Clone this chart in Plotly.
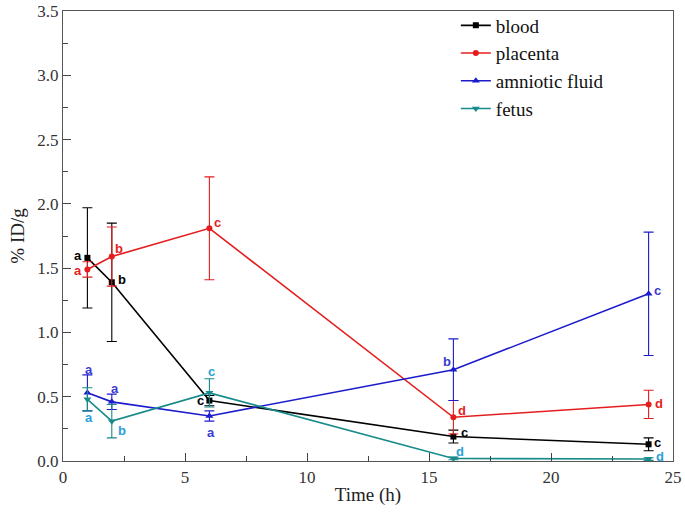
import plotly.graph_objects as go

# ---- data ----
time_h = [1, 2, 6, 16, 24]
series_names = ["blood", "placenta", "amniotic fluid", "fetus"]
blood = [1.58, 1.39, 0.47, 0.19, 0.13]
blood_err = [0.39, 0.46, 0.04, 0.05, 0.05]
placenta = [1.49, 1.59, 1.81, 0.34, 0.44]
placenta_err = [0.06, 0.23, 0.40, 0.13, 0.11]
amniotic = [0.53, 0.46, 0.35, 0.71, 1.30]
amniotic_err = [0.14, 0.06, 0.04, 0.24, 0.48]
fetus = [0.48, 0.31, 0.53, 0.02, 0.015]
fetus_err = [0.09, 0.13, 0.11, 0.01, 0.01]
blood_letters = ["a", "b", "c", "c", "c"]
placenta_letters = ["a", "b", "c", "d", "d"]
amniotic_letters = ["a", "a", "a", "b", "c"]
fetus_letters = ["a", "b", "c", "d", "d"]
x_ticks = [0, 5, 10, 15, 20, 25]
y_ticks = [0.0, 0.5, 1.0, 1.5, 2.0, 2.5, 3.0, 3.5]

# ---- styles ----
SERIF = "Times New Roman, Liberation Serif, serif"
line_colors = ["#000000", "#e41e1e", "#1c1ccc", "#178a8a"]
letter_colors = ["#000000", "#e41e1e", "#3b3bd0", "#2aa0d8"]
symbols = ["square", "circle", "triangle-up", "triangle-down"]
msizes = [6, 6, 7, 7]
# label pixel offsets (dx, dy up-positive)
offsets = [
    [(-9, 2), (10, 3), (-9, 0), (11, 4), (9, 2)],
    [(-9, -1), (7, 8), (8, 6), (9, 7), (10, 1)],
    [(2, 23), (3, 13), (2, -16), (-6, 8), (9, 3)],
    [(2, -18), (10, -9), (2, 21), (7, 7), (11, 3)],
]

values = [blood, placenta, amniotic, fetus]
errs = [blood_err, placenta_err, amniotic_err, fetus_err]
letters = [blood_letters, placenta_letters, amniotic_letters, fetus_letters]

fig = go.Figure()
for i, name in enumerate(series_names):
    fig.add_trace(go.Scatter(
        x=time_h, y=values[i], name=name, mode="lines+markers",
        line=dict(color=line_colors[i], width=1.6),
        marker=dict(symbol=symbols[i], size=msizes[i], color=line_colors[i]),
        error_y=dict(type="data", array=errs[i], visible=True,
                     color=line_colors[i], thickness=1.1, width=5),
    ))
    for j, t in enumerate(time_h):
        dx, dy = offsets[i][j]
        fig.add_annotation(
            x=t, y=values[i][j], text=letters[i][j], showarrow=False,
            xshift=dx, yshift=dy,
            font=dict(family="Liberation Sans", size=13, color=letter_colors[i], weight="bold"),
        )

axis_font = dict(family=SERIF, size=17, color="#333333")
fig.update_xaxes(
    range=[0, 25], tickvals=x_ticks, ticks="inside", ticklen=8, tickcolor="#444",
    minor=dict(ticks="inside", ticklen=5, dtick=2.5, tickcolor="#444"),
    showline=True, linecolor="#555", linewidth=1.2, mirror=True, automargin=False,
    showgrid=False, zeroline=False, tickfont=axis_font,
    title=dict(text="Time (h)", font=dict(family=SERIF, size=19, color="#222"), standoff=2),
)
fig.update_yaxes(
    range=[0, 3.5], tickvals=y_ticks, tickformat=".1f", ticks="inside", ticklen=8, tickcolor="#444",
    minor=dict(ticks="inside", ticklen=5, dtick=0.25, tickcolor="#444"),
    showline=True, linecolor="#555", linewidth=1.2, mirror=True, automargin=False,
    showgrid=False, zeroline=False, tickfont=axis_font,
    title=dict(text="% ID/g", font=dict(family=SERIF, size=19, color="#222"), standoff=7),
)
fig.update_layout(
    width=685, height=527,
    margin=dict(l=63, r=12, t=11, b=66, autoexpand=False),
    plot_bgcolor="white", paper_bgcolor="white",
    legend=dict(x=0.644, y=0.9877, xanchor="left", yanchor="top", yref="container",
                borderwidth=0, bgcolor="rgba(0,0,0,0)",
                font=dict(family=SERIF, size=19, color="#111"),
                tracegroupgap=0),
)
fig.write_html("out.html", config={"displayModeBar": False},
               post_script="document.body.style.margin='0';document.body.style.padding='0';")
